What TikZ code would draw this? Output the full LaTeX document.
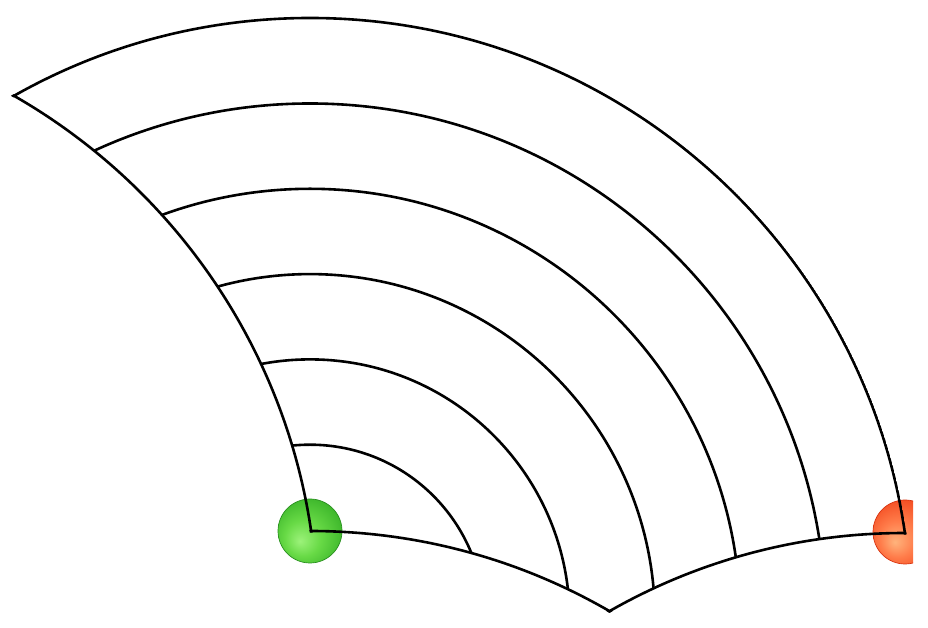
\documentclass[tikz,border=0pt]{standalone}
\definecolor{gHi}{HTML}{9CF27A}
\definecolor{gMid}{HTML}{68DA46}
\definecolor{gLo}{HTML}{38B228}
\definecolor{gEdge}{HTML}{2A9020}
\definecolor{rHi}{HTML}{FFB37C}
\definecolor{rMid}{HTML}{FF7C4A}
\definecolor{rLo}{HTML}{F2461C}
\definecolor{rEdge}{HTML}{D83410}
\pgfdeclareradialshading{greenball}{\pgfpoint{-8bp}{-8bp}}{color(0bp)=(gHi); color(14bp)=(gMid); color(32bp)=(gLo); color(50bp)=(gLo)}
\pgfdeclareradialshading{redball}{\pgfpoint{-8bp}{-8bp}}{color(0bp)=(rHi); color(14bp)=(rMid); color(32bp)=(rLo); color(50bp)=(rLo)}
\begin{document}
\begin{tikzpicture}[x=1pt,y=1pt,
  mesh/.style={line width=2.6pt, line join=round, line cap=round},
  ballnode/.style={circle, minimum size=64pt, inner sep=0pt, line width=0.7pt}]
\useasboundingbox (0,0) rectangle (928,628);
% centres of the four boundary circles
\coordinate (C0) at (310,9);     % outer circle, centre of all inner arcs
\coordinate (CL) at (-285,9);    % left boundary
\coordinate (CB) at (310,-502);  % lower left boundary
\coordinate (CR) at (905,-502);  % lower right boundary
\begin{scope}
\clip (0,0) rectangle (913,628);
\node[ballnode, shading=greenball, draw=gEdge] (g) at (310,97) {};
\node[ballnode, shading=redball, draw=rEdge] (r) at (905,96) {};
% inner arcs, clipped to the domain
\begin{scope}[even odd rule]
  \clip (C0) circle[radius=601];
  \clip (-1000,-1200) rectangle (2000,1000) (CL) circle[radius=602.5];
  \clip (-1000,-1200) rectangle (2000,1000) (CB) circle[radius=599];
  \clip (-1000,-1200) rectangle (2000,1000) (CR) circle[radius=597];
  \foreach \rr in {174.3,259.6,344.9,430.2,515.5}
    \draw[mesh] (C0) circle[radius=\rr];
\end{scope}
% boundary of the domain
\begin{scope}[even odd rule]
  \clip (C0) circle[radius=602.6];
  \clip (-1000,-1200) rectangle (2000,1000) (CL) circle[radius=600.9];
  \clip (-1000,-1200) rectangle (2000,1000) (CB) circle[radius=597.4];
  \clip (-1000,-1200) rectangle (2000,1000) (CR) circle[radius=595.4];
  \draw[mesh] (C0) circle[radius=601];
  \draw[mesh] (CL) circle[radius=602.5];
  \draw[mesh] (CB) circle[radius=599];
  \draw[mesh] (CR) circle[radius=597];
\end{scope}
\end{scope}
\end{tikzpicture}
\end{document}
